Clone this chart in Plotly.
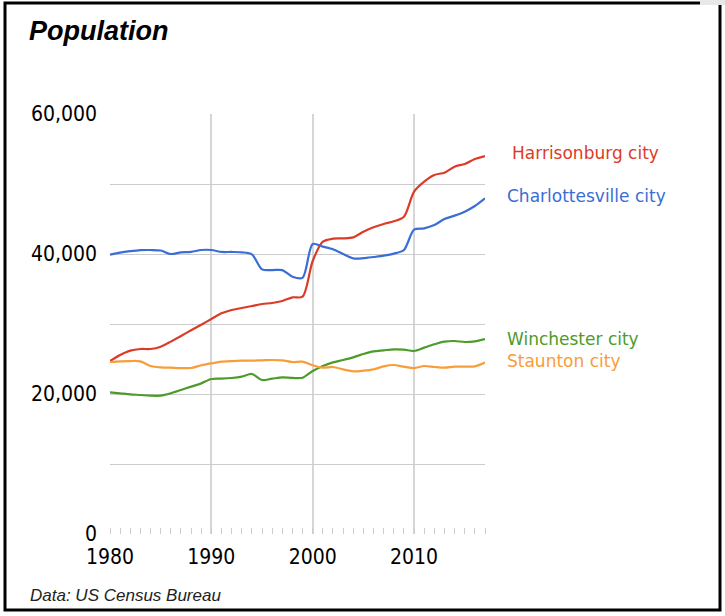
import plotly.graph_objects as go

years = list(range(1980, 2018))

harrisonburg = [24710, 25570, 26190, 26430, 26430, 26760, 27480, 28290, 29100, 29900,
                30710, 31520, 32000, 32290, 32570, 32860, 33000, 33290, 33810, 33900,
                39000, 41760, 42190, 42230, 42380, 43190, 43810, 44290, 44670, 45330,
                48900, 50330, 51290, 51620, 52480, 52860, 53570, 54000]

charlottesville = [39900, 40200, 40400, 40550, 40570, 40500, 40000, 40240, 40300, 40570,
                   40570, 40290, 40290, 40240, 39950, 37800, 37700, 37700, 36760, 36600,
                   41430, 41050, 40670, 40000, 39380, 39400, 39570, 39760, 40050, 40570,
                   43480, 43670, 44140, 45000, 45480, 46050, 46860, 47950]

winchester = [20240, 20100, 19950, 19860, 19760, 19760, 20100, 20570, 21050, 21520,
              22140, 22190, 22290, 22480, 22860, 22000, 22190, 22380, 22290, 22330,
              23290, 24000, 24520, 24860, 25240, 25710, 26100, 26240, 26380, 26330,
              26140, 26620, 27100, 27480, 27570, 27430, 27520, 27850]

staunton = [24570, 24670, 24710, 24670, 24000, 23810, 23760, 23710, 23710, 24100,
            24380, 24620, 24710, 24760, 24760, 24810, 24860, 24810, 24570, 24620,
            24100, 23760, 23860, 23520, 23240, 23330, 23520, 23950, 24140, 23900,
            23710, 24000, 23860, 23760, 23900, 23900, 23950, 24500]

series_names = ["Harrisonburg city", "Charlottesville city", "Winchester city", "Staunton city"]
series_values = [harrisonburg, charlottesville, winchester, staunton]
series_colors = ["#dc3b28", "#3a6dd6", "#4d9b29", "#f89d38"]
label_shift = [25, 20, 20, 20]
label_yshift = [3, 2, 0, 2]

y_tickvals = [0, 10000, 20000, 30000, 40000, 50000, 60000]
y_ticktext = ["0", "", "20,000", "", "40,000", "", "60,000"]
x_tickvals = [1980, 1990, 2000, 2010]
x_ticktext = ["1980", "1990", "2000", "2010"]

W, H = 725, 616
L, R, T, B = 110, 240, 114, 82
pw, ph = W - L - R, H - T - B

def px_x(px):
    return (px - L) / pw

def px_y(py):
    return (H - B - py) / ph

fig = go.Figure()
for name, vals, col in zip(series_names, series_values, series_colors):
    fig.add_trace(go.Scatter(x=years, y=vals, mode="lines", name=name,
                             line=dict(color=col, width=2.2, shape="spline", smoothing=0.8),
                             hoverinfo="skip", cliponaxis=False))

annotations = []
for name, vals, col, xs, ys in zip(series_names, series_values, series_colors, label_shift, label_yshift):
    annotations.append(dict(x=years[-1], y=vals[-1], xref="x", yref="y", text=name,
                            showarrow=False, xanchor="left", yanchor="middle",
                            xshift=xs, yshift=ys,
                            font=dict(family="DejaVu Sans", size=17, color=col)))

annotations.append(dict(x=px_x(27), y=px_y(31), xref="paper", yref="paper",
                        text="<b><i>Population</i></b>", showarrow=False,
                        xanchor="left", yanchor="middle",
                        font=dict(family="Liberation Sans", size=27, color="#000000")))
annotations.append(dict(x=px_x(28), y=px_y(595), xref="paper", yref="paper",
                        text="<i>Data: US Census Bureau</i>", showarrow=False,
                        xanchor="left", yanchor="middle",
                        font=dict(family="Liberation Sans Narrow, Liberation Sans", size=17, color="#222222")))

shapes = [
    dict(type="rect", xref="paper", yref="paper",
         x0=px_x(5), x1=px_x(720), y0=px_y(610), y1=px_y(3),
         line=dict(color="#000000", width=3), fillcolor="rgba(0,0,0,0)", layer="below"),
    dict(type="rect", xref="paper", yref="paper",
         x0=px_x(700), x1=px_x(725), y0=px_y(5), y1=px_y(0),
         line=dict(width=0), fillcolor="#e8e8e8", layer="above"),
]

fig.update_layout(
    width=W, height=H,
    margin=dict(l=L, r=R, t=T, b=B, autoexpand=False),
    paper_bgcolor="white", plot_bgcolor="white",
    showlegend=False,
    annotations=annotations,
    shapes=shapes,
    xaxis=dict(range=[1980, 2017], tickvals=x_tickvals, ticktext=x_ticktext,
               showgrid=True, gridcolor="#d6d6d6", gridwidth=2,
               zeroline=False, showline=False, ticks="", ticklabelstandoff=8,
               minor=dict(dtick=1, tick0=1980, ticks="inside", ticklen=6, tickcolor="#cccccc",
                          tickwidth=1, showgrid=False),
               tickfont=dict(family="Liberation Sans Narrow, DejaVu Sans Condensed", size=21, color="#000"),
               automargin=False, fixedrange=True),
    yaxis=dict(range=[0, 60000], tickvals=y_tickvals, ticktext=y_ticktext,
               showgrid=True, gridcolor="#cccccc", gridwidth=1,
               zeroline=False, showline=False, ticks="", ticklabelstandoff=12,
               tickfont=dict(family="Liberation Sans Narrow, DejaVu Sans Condensed", size=21, color="#000"),
               automargin=False, fixedrange=True),
)

fig.write_html("out.html", config={"displayModeBar": False, "staticPlot": True},
               post_script="document.body.style.margin='0';document.body.style.overflow='hidden';")
